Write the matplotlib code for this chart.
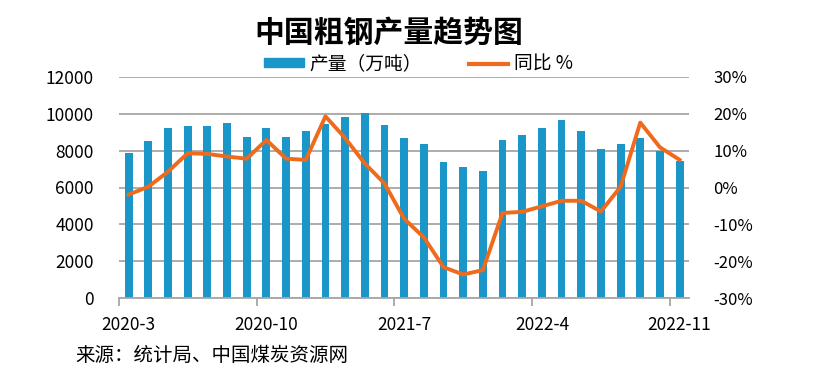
import numpy as np
import matplotlib.pyplot as plt
from matplotlib.patches import Patch
from matplotlib.lines import Line2D

plt.rcParams['font.family'] = ['Noto Sans CJK SC', 'DejaVu Sans']

# --- Data (China monthly crude steel output, Jan/Feb merged so omitted) ---
months = ['2020-3', '2020-4', '2020-5', '2020-6', '2020-7', '2020-8', '2020-9',
          '2020-10', '2020-11', '2020-12',
          '2021-3', '2021-4', '2021-5', '2021-6', '2021-7', '2021-8', '2021-9',
          '2021-10', '2021-11', '2021-12',
          '2022-3', '2022-4', '2022-5', '2022-6', '2022-7', '2022-8', '2022-9',
          '2022-10', '2022-11']
output = [7870, 8530, 9250, 9320, 9320, 9500, 8760, 9250, 8760, 9090,
          9430, 9810, 10030, 9410, 8670, 8340, 7360, 7130, 6870, 8600,
          8830, 9250, 9650, 9090, 8110, 8340, 8670, 7980, 7450]
yoy = [-1.9, 0.2, 4.3, 9.3, 9.1, 8.4, 7.8, 12.9, 7.8, 7.5,
       19.3, 13.4, 6.5, 1.1, -8.5, -13.5, -21.6, -23.6, -22.4, -6.9,
       -6.6, -5.1, -3.6, -3.6, -6.5, 0.2, 17.6, 10.9, 7.5]
shown_labels = ['2020-3', '2020-10', '2021-7', '2022-4', '2022-11']

bar_color = '#1a96c8'
line_color = '#f06a1c'
grid_color = '#a6a6a6'

x = np.arange(len(months))

fig = plt.figure(figsize=(8.14, 3.75), dpi=100)
ax = fig.add_axes([0.146, 0.205, 0.701, 0.59])

ax.bar(x, output, width=0.4, color=bar_color, zorder=2)
ax.set_xlim(-0.5, len(months) - 0.5)
ax.set_ylim(0, 12000)
ax.set_yticks(np.arange(0, 12001, 2000))
ax.grid(axis='y', color=grid_color, linewidth=1.3, zorder=0)
ax.set_axisbelow(True)

for side in ['left', 'right', 'top']:
    ax.spines[side].set_visible(False)
ax.spines['bottom'].set_color(grid_color)
ax.spines['bottom'].set_linewidth(1.3)

# labels at category centres, tick marks at group boundaries
label_pos = [months.index(m) for m in shown_labels]
ax.set_xticks(label_pos)
ax.set_xticklabels(shown_labels, fontsize=12.5)
ax.tick_params(axis='x', length=0, pad=13)
ax.set_xticks([p - 0.5 for p in label_pos], minor=True)
ax.tick_params(axis='x', which='minor', length=6, color=grid_color, width=1.3)
ax.tick_params(axis='y', length=0, pad=18, labelsize=12.5)

ax2 = ax.twinx()
ax2.plot(x, yoy, color=line_color, linewidth=2.8, solid_joinstyle='round', zorder=3)
ax2.set_ylim(-30, 30)
ax2.set_yticks(np.arange(-30, 31, 10))
ax2.set_yticklabels([f'{v}%' for v in range(-30, 31, 10)])
ax2.tick_params(axis='y', length=0, pad=17, labelsize=12)
for side in ['left', 'right', 'top', 'bottom']:
    ax2.spines[side].set_visible(False)

fig.text(0.478, 0.912, '中国粗钢产量趋势图', ha='center', va='center',
         fontsize=21.5, fontweight='bold')

handles = [Patch(color=bar_color), Line2D([0], [0], color=line_color, linewidth=3)]
fig.legend(handles, ['产量（万吨）', '同比 %'], loc='center', ncol=2,
           bbox_to_anchor=(0.514, 0.83), frameon=False, fontsize=13.5,
           handlelength=2.1, handleheight=0.4, columnspacing=2.5, handletextpad=0.3)

fig.text(0.092, 0.053, '来源：统计局、中国煤炭资源网', ha='left', va='center',
         fontsize=14)

fig.savefig('out.png', dpi=100)
